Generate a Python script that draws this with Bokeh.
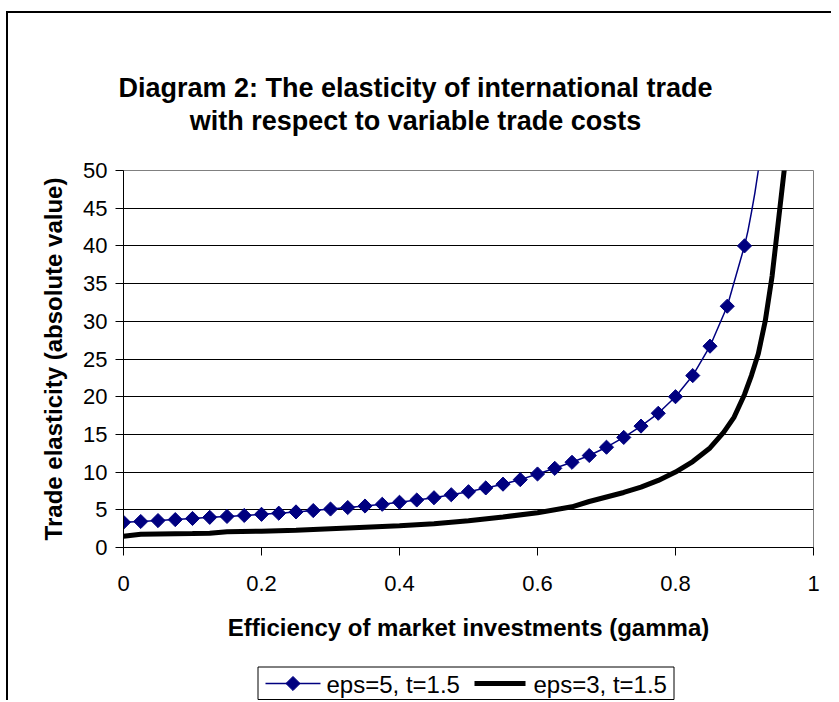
import math
from bokeh.plotting import figure
from bokeh.layouts import column
from bokeh.models import Range1d, FixedTicker
from bokeh.core.properties import value
from bokeh.embed import file_html
from bokeh.resources import INLINE

# ---- data ----
gamma_eps5 = [0.0, 0.025, 0.05, 0.075, 0.1, 0.125, 0.15, 0.175, 0.2, 0.225, 0.25, 0.275,
              0.3, 0.325, 0.35, 0.375, 0.4, 0.425, 0.45, 0.475, 0.5, 0.525, 0.55, 0.575,
              0.6, 0.625, 0.65, 0.675, 0.7, 0.725, 0.75, 0.775, 0.8, 0.825, 0.85, 0.875, 0.9]
elast_eps5 = [3.35, 3.45, 3.57, 3.7, 3.85, 4.0, 4.12, 4.25, 4.4, 4.55, 4.72, 4.9,
              5.1, 5.3, 5.5, 5.73, 6.0, 6.3, 6.6, 7.0, 7.4, 7.9, 8.4, 9.0,
              9.75, 10.5, 11.3, 12.2, 13.3, 14.6, 16.1, 17.8, 20.0, 22.8, 26.7, 32.0, 40.0]
gamma_eps5_tail = [0.905, 0.91, 0.915, 0.92, 0.925]
elast_eps5_tail = [42.0, 44.4, 47.0, 50.0, 53.0]

gamma_eps3 = [0.0, 0.025, 0.05, 0.1, 0.125, 0.15, 0.2, 0.25, 0.3, 0.35, 0.4, 0.45, 0.5,
              0.55, 0.6, 0.65, 0.675, 0.7, 0.725, 0.75, 0.775, 0.8, 0.825, 0.85, 0.87,
              0.885, 0.9, 0.91, 0.92, 0.93, 0.94, 0.95, 0.96]
elast_eps3 = [1.5, 1.75, 1.8, 1.85, 1.9, 2.1, 2.15, 2.3, 2.5, 2.7, 2.9, 3.15, 3.55,
              4.05, 4.6, 5.4, 6.1, 6.7, 7.3, 8.0, 8.9, 10.0, 11.4, 13.2, 15.3,
              17.3, 20.3, 22.8, 25.7, 30.0, 36.0, 44.0, 52.0]

y_ticks = [0, 5, 10, 15, 20, 25, 30, 35, 40, 45, 50]
x_ticks = [0, 0.2, 0.4, 0.6, 0.8, 1.0]
x_tick_labels = {0: "0", 0.2: "0.2", 0.4: "0.4", 0.6: "0.6", 0.8: "0.8", 1.0: "1"}

title_lines = ["Diagram 2: The elasticity of international trade",
               "with respect to variable trade costs"]
x_label = "Efficiency of market investments (gamma)"
y_label = "Trade elasticity (absolute value)"
series_names = ["eps=5, t=1.5", "eps=3, t=1.5"]

FONT = "Liberation Sans"
NAVY = "#000080"
W = 823
TH, MH, LH = 140, 509, 38
TOP = 13           # page y of the layout's top edge (after margin + border)


def strip(height, y_top):
    f = figure(width=W, height=height, output_backend="svg", toolbar_location=None,
               x_axis_location=None, y_axis_location=None,
               min_border=0, outline_line_color=None)
    if "frame_align" in f.properties():
        f.frame_align = False
        f.x_range = Range1d(8, 8 + W)          # page pixel coordinates
    else:
        f.x_range = Range1d(123, 813)          # frame aligned with the main plot
    f.y_range = Range1d(y_top + height, y_top)  # page y, downwards
    f.grid.visible = False
    return f


# ---------------- title strip ----------------
tf = strip(TH, TOP)
tf.text(x=[415, 415], y=[87, 120], text=title_lines,
        text_align="center", text_baseline="middle", text_font=value(FONT),
        text_font_size="27px", text_font_style="bold", text_color="black")

# ---------------- main plot ----------------
p = figure(width=W, height=MH, output_backend="svg", toolbar_location=None,
           x_range=Range1d(0, 1), y_range=Range1d(0, 50),
           min_border_left=115, min_border_right=18, min_border_top=17,
           min_border_bottom=115, background_fill_color="white",
           border_fill_color="white")

p.outline_line_color = "#808080"
p.outline_line_width = 1
p.xgrid.visible = False
p.ygrid.ticker = FixedTicker(ticks=y_ticks)
p.ygrid.grid_line_color = "black"
p.ygrid.grid_line_width = 1

p.yaxis.ticker = FixedTicker(ticks=y_ticks)
p.xaxis.ticker = FixedTicker(ticks=x_ticks)
p.xaxis.major_label_overrides = x_tick_labels
for ax in (p.xaxis, p.yaxis):
    ax.axis_line_color = "black"
    ax.axis_line_width = 1
    ax.major_tick_line_color = "black"
    ax.major_tick_out = 8
    ax.major_tick_in = 0
    ax.minor_tick_line_color = None
    ax.major_label_text_font = FONT
    ax.major_label_text_font_size = "22px"
    ax.major_label_text_color = "black"
    ax.axis_label_text_font = FONT
    ax.axis_label_text_font_size = "24px"
    ax.axis_label_text_font_style = "bold"
    ax.axis_label_text_color = "black"
p.xaxis.major_label_standoff = 20
p.yaxis.major_label_standoff = 8
p.xaxis.axis_label = x_label
p.yaxis.axis_label = y_label
p.xaxis.axis_label_standoff = 20
p.yaxis.axis_label_standoff = 13

p.line(gamma_eps5 + gamma_eps5_tail, elast_eps5 + elast_eps5_tail,
       line_color=NAVY, line_width=1.5)
p.scatter(gamma_eps5, elast_eps5, marker="square", size=10,
          angle=math.pi / 4, fill_color=NAVY, line_color=NAVY)
p.line(gamma_eps3, elast_eps3, line_color="black", line_width=5)

# ---------------- legend strip (box, swatches, labels) ----------------
lf = strip(LH, TOP + TH + MH)
ly = 683
lf.quad(left=[257.5], right=[673.5], top=[666.5], bottom=[699], fill_color="white",
        line_color="black", line_width=1)
lf.line(x=[265, 320], y=[ly, ly], line_color=NAVY, line_width=1.5)
lf.scatter(x=[292.5], y=[ly], marker="square", size=10, angle=math.pi / 4,
           fill_color=NAVY, line_color=NAVY)
lf.line(x=[474, 525], y=[ly, ly], line_color="black", line_width=5)
lf.text(x=[326, 533], y=[ly + 1, ly + 1], text=series_names, text_align="left",
        text_baseline="middle", text_font=value(FONT), text_font_size="24px",
        text_color="black")

layout = column(tf, p, lf, spacing=0,
                styles={"margin-left": "6px", "margin-top": "11px",
                        "border-left": "2px solid black", "border-top": "2px solid black"})

open("out.html", "w").write(file_html(layout, INLINE))
